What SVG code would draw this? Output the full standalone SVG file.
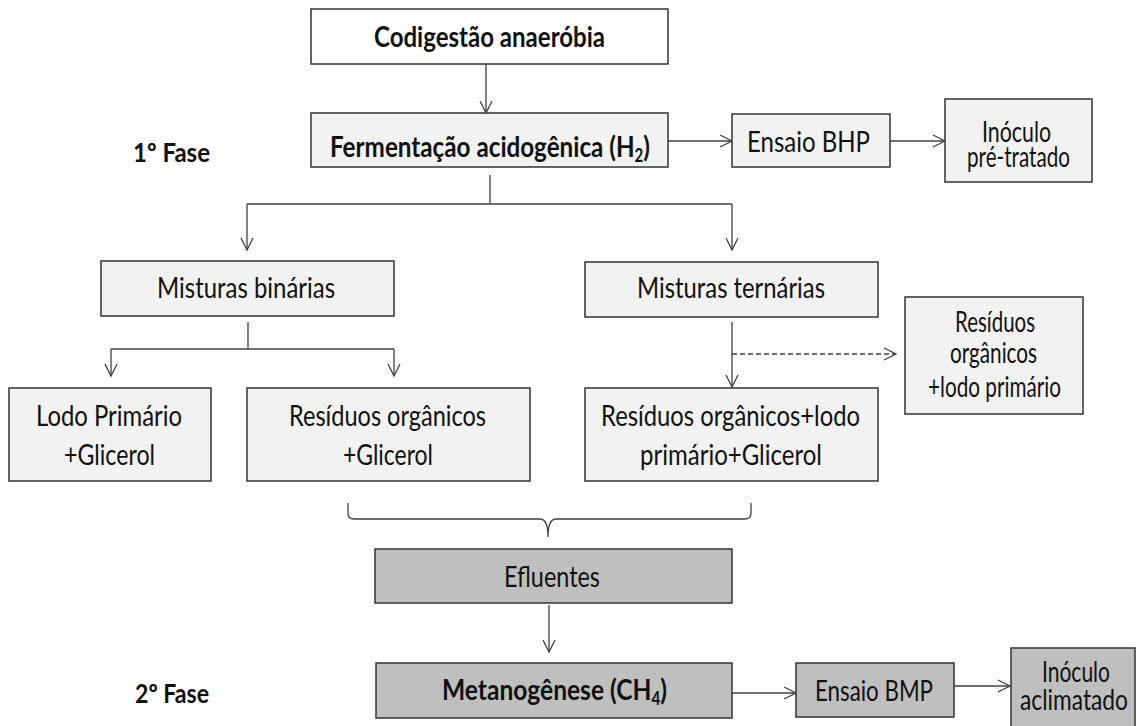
<svg xmlns="http://www.w3.org/2000/svg" width="1137" height="726" viewBox="0 0 1137 726">
<defs>
<style>
.box{stroke:#333;stroke-width:1.5}
.w{fill:#ffffff}
.l{fill:#f2f2f2}
.g{fill:#bfbfbf}
text{font-family:Lato,"Liberation Sans",sans-serif;font-size:28px;fill:#111}
.b{font-weight:bold;font-size:29px}
.c{fill:none;stroke:#404040;stroke-width:1.3}
.d{stroke-dasharray:5,3}
</style>
<marker id="ah" viewBox="0 0 12 12" refX="12" refY="6" markerWidth="12" markerHeight="12" markerUnits="userSpaceOnUse" orient="auto" overflow="visible">
<path d="M0,0 L12,6 L0,12" fill="none" stroke="#404040" stroke-width="1.3"/>
</marker>
</defs>
<rect width="1137" height="726" fill="#ffffff"/>
<g id="labels">
<text class="b" x="133" y="162" textLength="77" lengthAdjust="spacingAndGlyphs" style="font-size:26px">1º Fase</text>
<text class="b" x="135" y="703" textLength="74" lengthAdjust="spacingAndGlyphs" style="font-size:26px">2º Fase</text>
</g>
<g id="connectors">
<path class="c" d="M486,64 L486,113" marker-end="url(#ah)"/>
<path class="c" d="M668,141 L732,141" marker-end="url(#ah)"/>
<path class="c" d="M890,141 L945,141" marker-end="url(#ah)"/>
<path class="c" d="M490,175 L490,204"/>
<path class="c" d="M247,204 L732,204"/>
<path class="c" d="M247,204 L247,250" marker-end="url(#ah)"/>
<path class="c" d="M732,204 L732,250" marker-end="url(#ah)"/>
<path class="c" d="M248,322 L248,349"/>
<path class="c" d="M111,349 L394,349"/>
<path class="c" d="M111,349 L111,376" marker-end="url(#ah)"/>
<path class="c" d="M394,349 L394,376" marker-end="url(#ah)"/>
<path class="c" d="M732,322 L732,387" marker-end="url(#ah)"/>
<path class="c d" d="M732,354 L896,354" marker-end="url(#ah)"/>
<path class="c" d="M348,503 L348,513 Q348,519 354,519 L540,519 Q548,519 548,537 Q548,519 556,519 L745,519 Q751,519 751,513 L751,503"/>
<path class="c" d="M549,605 L549,652" marker-end="url(#ah)"/>
<path class="c" d="M732,693 L796,693" marker-end="url(#ah)"/>
<path class="c" d="M954,686 L1010,686" marker-end="url(#ah)"/>
</g>
<g id="codigestao">
<rect class="box w" x="311" y="9" width="357" height="55"/>
<text class="b" x="374" y="47" textLength="231" lengthAdjust="spacingAndGlyphs">Codigestão anaeróbia</text>
</g>
<g id="fermentacao">
<rect class="box l" x="311" y="113" width="357" height="54"/>
<text class="b" x="330" y="157" textLength="320" lengthAdjust="spacingAndGlyphs">Fermentação acidogênica (H<tspan dy="5" style="font-size:18px">2</tspan><tspan dy="-5">)</tspan></text>
</g>
<g id="ensaio-bhp">
<rect class="box l" x="732" y="114" width="158" height="53"/>
<text x="747" y="152" textLength="123" lengthAdjust="spacingAndGlyphs">Ensaio BHP</text>
</g>
<g id="inoculo-pre">
<rect class="box l" x="945" y="99" width="147" height="83"/>
<text x="982" y="142" textLength="69" lengthAdjust="spacingAndGlyphs">Inóculo</text>
<text x="967" y="167" textLength="103" lengthAdjust="spacingAndGlyphs">pré-tratado</text>
</g>
<g id="misturas-binarias">
<rect class="box l" x="101" y="261" width="293" height="55"/>
<text x="157" y="298" textLength="178" lengthAdjust="spacingAndGlyphs">Misturas binárias</text>
</g>
<g id="misturas-ternarias">
<rect class="box l" x="585" y="262" width="293" height="55"/>
<text x="637" y="298" textLength="188" lengthAdjust="spacingAndGlyphs">Misturas ternárias</text>
</g>
<g id="residuos-lodo-side">
<rect class="box l" x="905" y="297" width="178" height="117"/>
<text x="955" y="332" textLength="80" lengthAdjust="spacingAndGlyphs">Resíduos</text>
<text x="950" y="363" textLength="87" lengthAdjust="spacingAndGlyphs">orgânicos</text>
<text x="928" y="397" textLength="133" lengthAdjust="spacingAndGlyphs">+lodo primário</text>
</g>
<g id="lodo-glicerol">
<rect class="box l" x="9" y="388" width="202" height="93"/>
<text x="36" y="426" textLength="146" lengthAdjust="spacingAndGlyphs">Lodo Primário</text>
<text x="64" y="465" textLength="91" lengthAdjust="spacingAndGlyphs">+Glicerol</text>
</g>
<g id="residuos-glicerol">
<rect class="box l" x="247" y="388" width="283" height="93"/>
<text x="289" y="426" textLength="197" lengthAdjust="spacingAndGlyphs">Resíduos orgânicos</text>
<text x="343" y="465" textLength="90" lengthAdjust="spacingAndGlyphs">+Glicerol</text>
</g>
<g id="residuos-lodo-glicerol">
<rect class="box l" x="585" y="388" width="293" height="93"/>
<text x="601" y="426" textLength="259" lengthAdjust="spacingAndGlyphs">Resíduos orgânicos+lodo</text>
<text x="640" y="465" textLength="182" lengthAdjust="spacingAndGlyphs">primário+Glicerol</text>
</g>
<g id="efluentes">
<rect class="box g" x="375" y="549" width="357" height="54"/>
<text x="504" y="587" textLength="96" lengthAdjust="spacingAndGlyphs">Efluentes</text>
</g>
<g id="metanogenese">
<rect class="box g" x="376" y="663" width="356" height="55"/>
<text class="b" x="442" y="700" textLength="225" lengthAdjust="spacingAndGlyphs">Metanogênese (CH<tspan dy="5" style="font-size:18px">4</tspan><tspan dy="-5">)</tspan></text>
</g>
<g id="ensaio-bmp">
<rect class="box g" x="796" y="663" width="158" height="54"/>
<text x="815" y="701" textLength="118" lengthAdjust="spacingAndGlyphs">Ensaio BMP</text>
</g>
<g id="inoculo-aclimatado">
<rect class="box g" x="1011" y="648" width="124" height="90"/>
<text x="1042" y="682" textLength="68" lengthAdjust="spacingAndGlyphs">Inóculo</text>
<text x="1020" y="710" textLength="108" lengthAdjust="spacingAndGlyphs">aclimatado</text>
</g>
</svg>
